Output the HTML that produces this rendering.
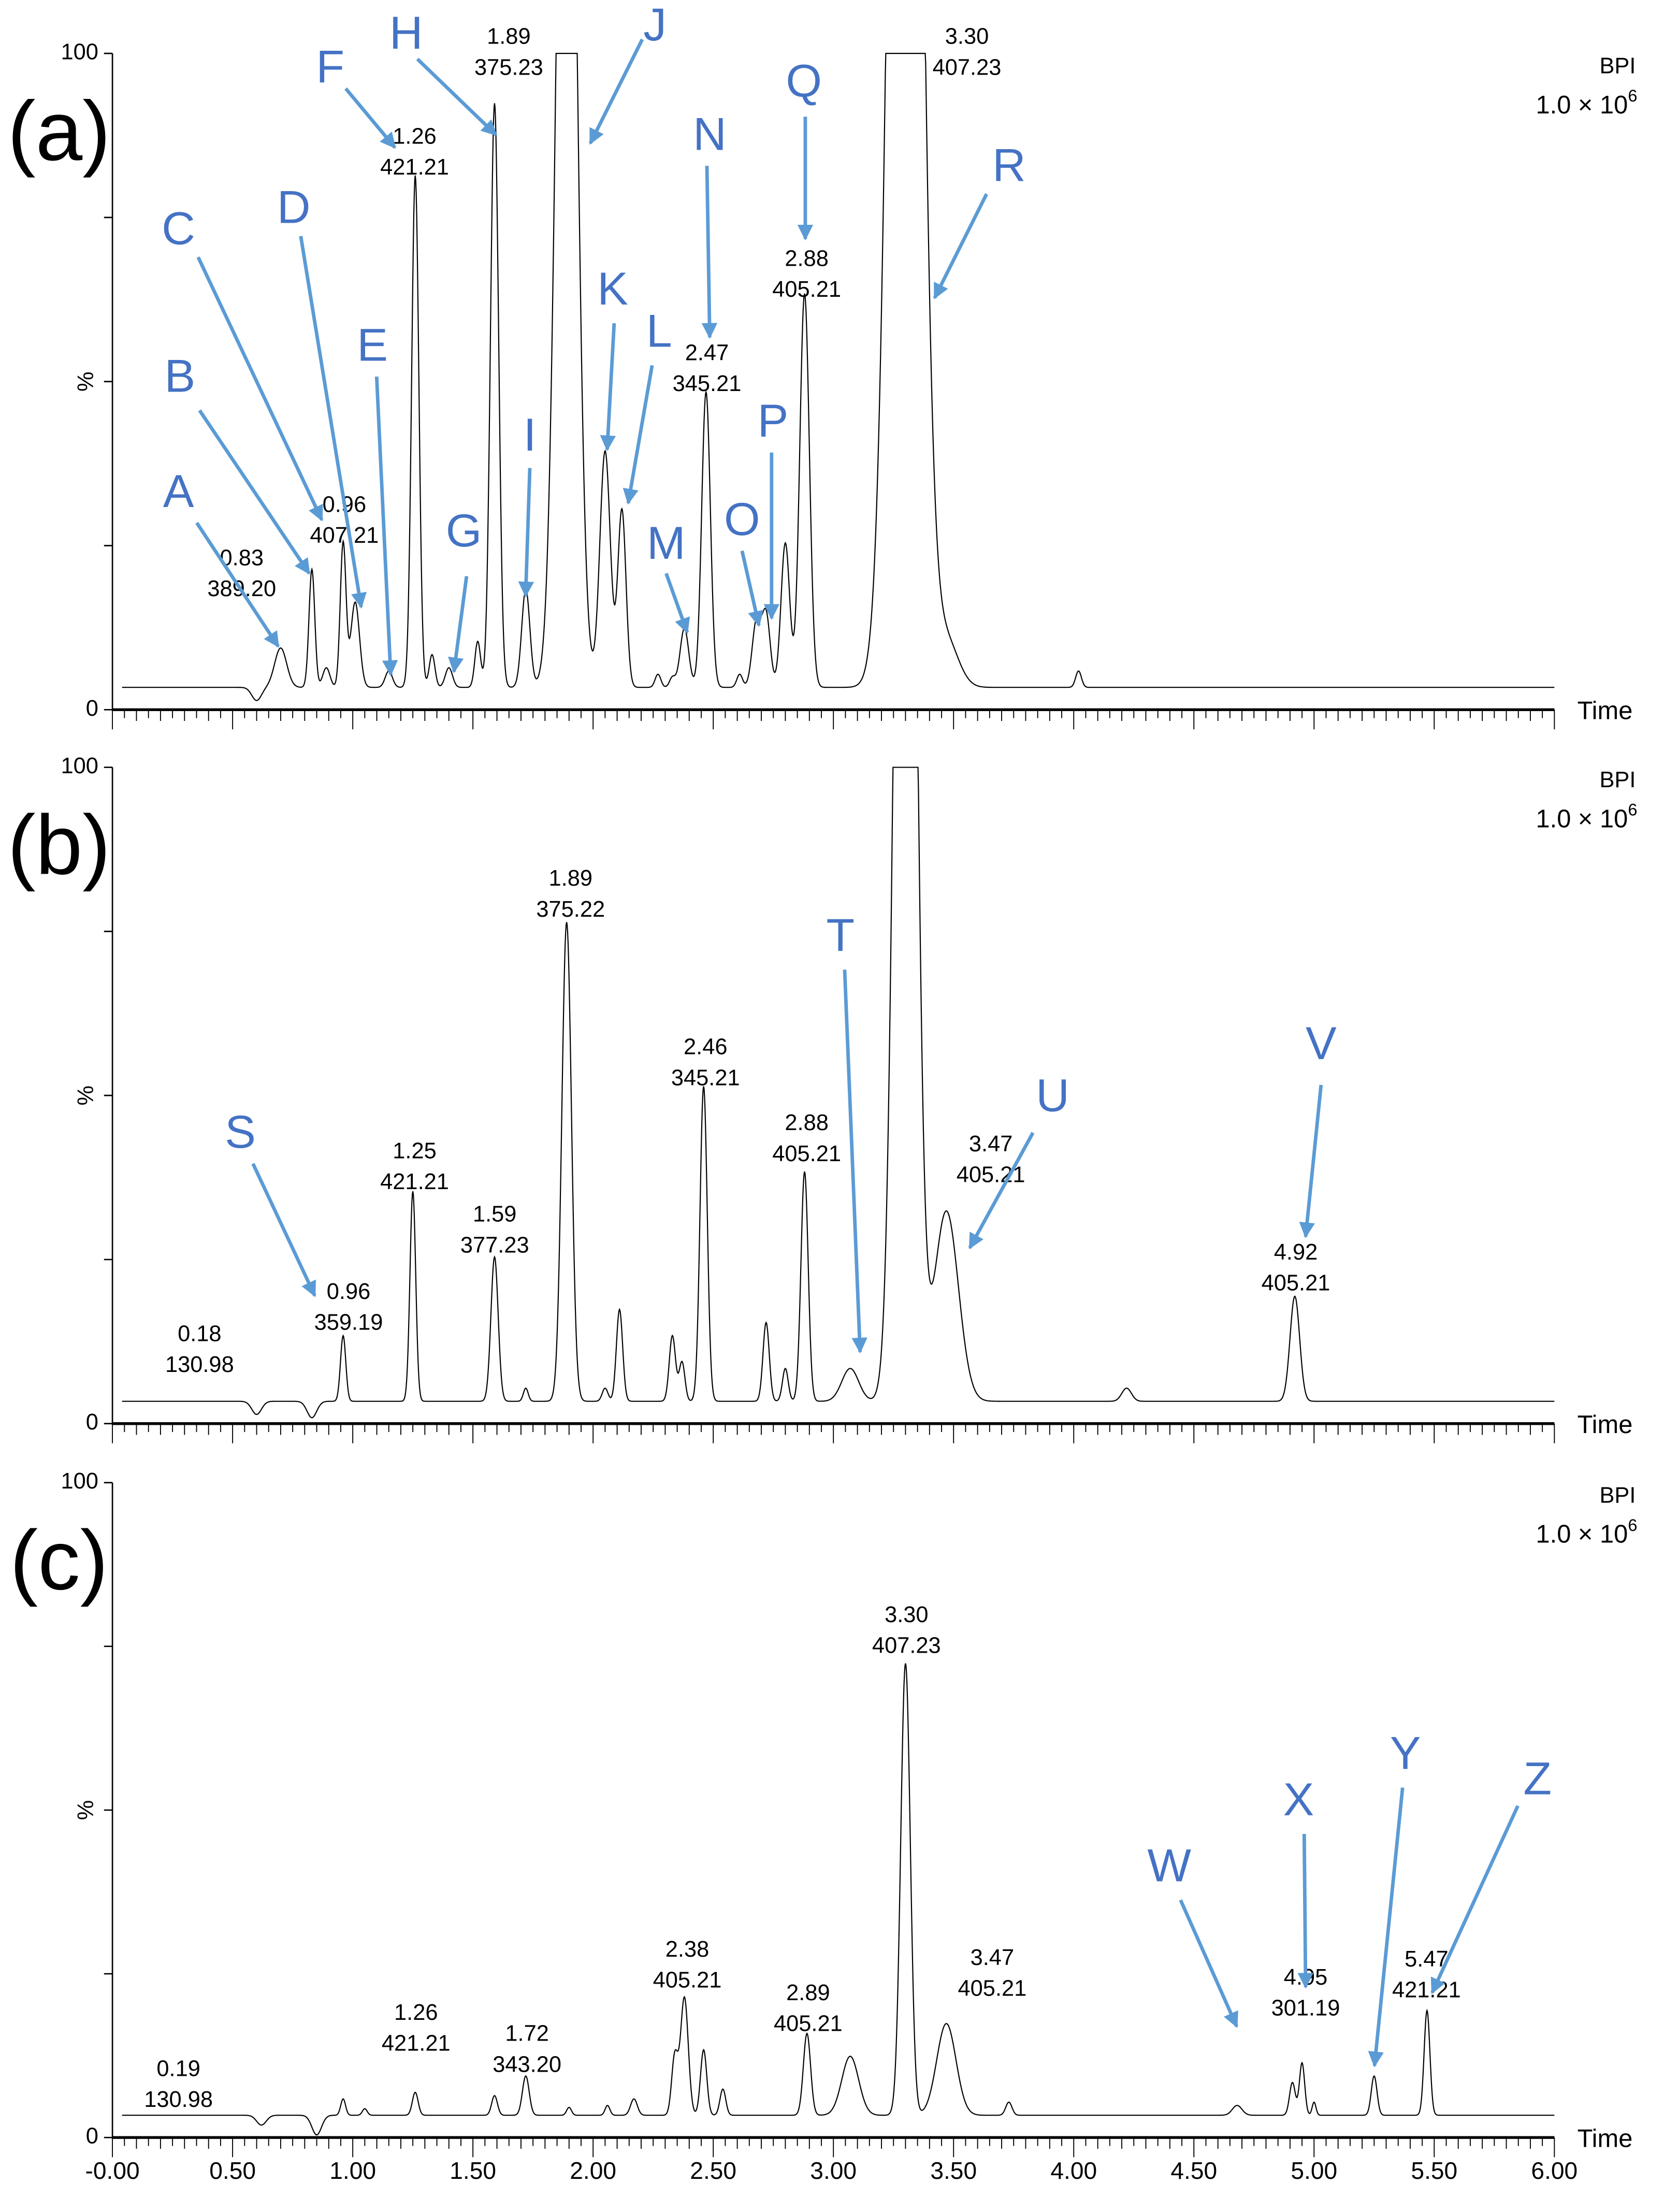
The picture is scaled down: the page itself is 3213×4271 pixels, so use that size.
<!DOCTYPE html>
<html><head><meta charset="utf-8">
<style>
html,body{margin:0;padding:0;background:#fff;}
svg{display:block;}
text{font-family:"Liberation Sans",sans-serif;}
</style></head>
<body>
<svg id="chart" xmlns="http://www.w3.org/2000/svg" width="3213" height="4271" viewBox="0 0 1184 1574" preserveAspectRatio="none">
<defs>
<marker id="ah" viewBox="0 0 10 10" refX="9" refY="5" markerWidth="4.5" markerHeight="4.5" orient="auto"><path d="M0,0 L10,5 L0,10 z" fill="#5B9BD5"/></marker>
</defs>
<g id="root"></g>
</svg>
<script>
// Panel (a) data
const aTimes  = [0.60,0.70,0.83,0.89,0.96,1.01,1.15,1.26,1.33,1.40,1.52,1.59,1.72,1.89,2.05,2.12,2.27,2.33,2.38,2.47,2.61,2.68,2.72,2.80,2.88,3.30,3.47,4.02];
const aHeights= [-2,6,18,3,22,13,2.5,78,5,3,7,89,15,190,36,27,2,1.5,9,45,2,10,11,22,60,300,7,2.5];
const aWidths = [0.02,0.025,0.012,0.015,0.012,0.018,0.015,0.015,0.012,0.015,0.012,0.017,0.017,0.038,0.022,0.017,0.012,0.012,0.018,0.018,0.012,0.018,0.017,0.018,0.02,0.055,0.05,0.012];
// Panel (b) data
const bTimes  = [0.60,0.83,0.96,1.25,1.59,1.72,1.89,2.05,2.11,2.33,2.37,2.46,2.72,2.80,2.88,3.07,3.30,3.47,4.22,4.92];
const bHeights= [-2,-2.5,10,32,22,2,73,2,14,10,6,48,12,5,35,5,250,29,2,16];
const bWidths = [0.02,0.02,0.011,0.012,0.015,0.01,0.02,0.012,0.013,0.013,0.012,0.015,0.013,0.012,0.015,0.035,0.038,0.05,0.02,0.02];
// Panel (c) data
const cTimes  = [0.62,0.85,0.96,1.05,1.26,1.59,1.72,1.90,2.06,2.17,2.34,2.38,2.46,2.54,2.89,3.07,3.30,3.47,3.73,4.68,4.91,4.95,5.00,5.25,5.47];
const cHeights= [-1.5,-3,2.5,1,3.5,3,6,1.2,1.5,2.5,9,18,10,4,12.5,9,69,14,2,1.5,5,8,2,6,16];
const cWidths = [0.02,0.02,0.01,0.01,0.012,0.012,0.014,0.01,0.01,0.014,0.013,0.016,0.013,0.012,0.015,0.035,0.02,0.04,0.013,0.02,0.012,0.011,0.008,0.012,0.012];
const tickLabels = ["-0.00","0.50","1.00","1.50","2.00","2.50","3.00","3.50","4.00","4.50","5.00","5.50","6.00"];
const baselineLevel = 3.4;

const NS="http://www.w3.org/2000/svg";
const root=document.getElementById('root');
const X0=80, PXMIN=171;
function xs(t){return X0+t*PXMIN;}
function mk(tag,attrs,parent){const e=document.createElementNS(NS,tag);for(const k in attrs)e.setAttribute(k,attrs[k]);(parent||root).appendChild(e);return e;}
function txt(s,x,y,size,fill,anchor,parent){const e=mk('text',{x:x,y:y,'font-size':size,fill:fill,'text-anchor':anchor||'middle','dominant-baseline':'middle'},parent);e.textContent=s;return e;}

const panels=[
 {id:'a',y0:505,y100:38,T:aTimes,H:aHeights,W:aWidths,labels:[["0.83","389.20",172,398],["0.96","407.21",245,360],["1.26","421.21",295,98],["1.89","375.23",362,27],["3.30","407.23",688,27],["2.47","345.21",503,252],["2.88","405.21",574,185]],
  arrows:[["A",127,352,140,372,198,460],["B",128,270,142,292,220,408],["C",127,165,141,183,229,370],["D",209,150,214,168,257,432],["E",265,248,268,268,278,480],["F",235,50,246,63,281,105],["H",289,26,297,42,353,96],["J",466,20,457,28,420,102],["K",436,208,437,230,432,320],["L",469,238,464,260,447,358],["I",377,312,377,333,374,424],["G",330,380,332,410,323,478],["M",474,389,474,408,489,450],["N",505,98,503,118,505,240],["O",528,372,528,392,540,445],["P",550,302,549,322,549,440],["Q",572,60,573,83,573,170],["R",718,120,702,138,665,212]]},
 {id:'b',y0:1013,y100:546,T:bTimes,H:bHeights,W:bWidths,labels:[["0.18","130.98",142,950],["0.96","359.19",248,920],["1.25","421.21",295,820],["1.59","377.23",352,865],["1.89","375.22",406,626],["2.46","345.21",502,746],["2.88","405.21",574,800],["3.47","405.21",705,815],["4.92","405.21",922,892]],
  arrows:[["S",171,808,180,828,224,922],["T",598,668,601,690,612,962],["U",749,782,735,806,690,888],["V",940,745,940,772,929,880]]},
 {id:'c',y0:1521,y100:1055,T:cTimes,H:cHeights,W:cWidths,labels:[["0.19","130.98",127,1473],["1.26","421.21",296,1433],["1.72","343.20",375,1448],["2.38","405.21",489,1388],["2.89","405.21",575,1419],["3.30","407.23",645,1150],["3.47","405.21",706,1394],["4.95","301.19",929,1408],["5.47","421.21",1015,1395]],
  arrows:[["W",832,1330,840,1352,880,1442],["X",924,1283,928,1305,929,1414],["Y",1000,1250,998,1272,978,1470],["Z",1094,1268,1080,1285,1019,1418]]}
];

panels.forEach((p,pi)=>{
  const g=mk('g',{});
  
  
  const ys=v=>p.y0-(v/100)*(p.y0-p.y100);
  const ya=mk('line',{x1:X0,y1:p.y100,x2:X0,y2:p.y0+1,stroke:'#000','stroke-width':1},g);
  
  const xa=mk('line',{x1:X0,y1:p.y0,x2:xs(6),y2:p.y0,stroke:'#000','stroke-width':2},g);
  
  [0,25,50,75,100].forEach(v=>mk('line',{x1:X0-6,y1:ys(v),x2:X0,y2:ys(v),stroke:'#000','stroke-width':1},g));
  for(let i=0;i<=120;i++){const t=i*0.05;const len=(i%10==0)?14:(i%2==0?8:6);mk('line',{x1:xs(t),y1:p.y0,x2:xs(t),y2:p.y0+len,stroke:'#000','stroke-width':0.7},g);}
  txt('100',X0-10,p.y100,16,'#000','end',g);
  txt('0',X0-10,p.y0,16,'#000','end',g);
  const pc=txt('%',62,ys(50),16,'#000','middle',g);pc.setAttribute('transform','rotate(-90 62 '+ys(50)+')');
  const tm=txt('Time',1142,p.y0+2,18,'#000','middle',g);
  txt('BPI',1151,p.y100+10,16,'#000','middle',g);
  const sc=mk('text',{x:1165,y:p.y100+38,'font-size':18,'text-anchor':'end','dominant-baseline':'middle'},g);
  
  sc.innerHTML='1.0 × 10<tspan dy="-7" font-size="12">6</tspan>';
  const pl=txt('('+p.id+')',42,p.y100+60,60,'#000','middle',g);
  let d='';
  for(let t=0.04;t<=6.0;t+=0.002){
    let v=baselineLevel;
    for(let k=0;k<p.T.length;k++){const z=(t-p.T[k])/p.W[k];if(Math.abs(z)<6)v+=p.H[k]*Math.exp(-0.5*z*z);}
    if(v>100)v=100;if(v<0)v=0;
    d+=(d?'L':'M')+xs(t).toFixed(2)+','+ys(v).toFixed(2);
  }
  const tr=mk('path',{d:d,fill:'none',stroke:'#000','stroke-width':0.8},g);
  
  p.labels.forEach(l=>{
    const a=txt(l[0],l[2],l[3],16,'#000','middle',g);
    const b=txt(l[1],l[2],l[3]+22,16,'#000','middle',g);
  });
  p.arrows.forEach(a=>{
    const t=txt(a[0],a[1],a[2],33,'#4472C4','middle',g);
    const ln=mk('line',{x1:a[3],y1:a[4],x2:a[5],y2:a[6],stroke:'#5B9BD5','stroke-width':2.5,'marker-end':'url(#ah)'},g);
    
  });
  if(pi==2){
    tickLabels.forEach((s,i)=>{const e=txt(s,xs(i*0.5),p.y0+25,17,'#000','middle',g);});
  }
});
</script>
</body></html>
